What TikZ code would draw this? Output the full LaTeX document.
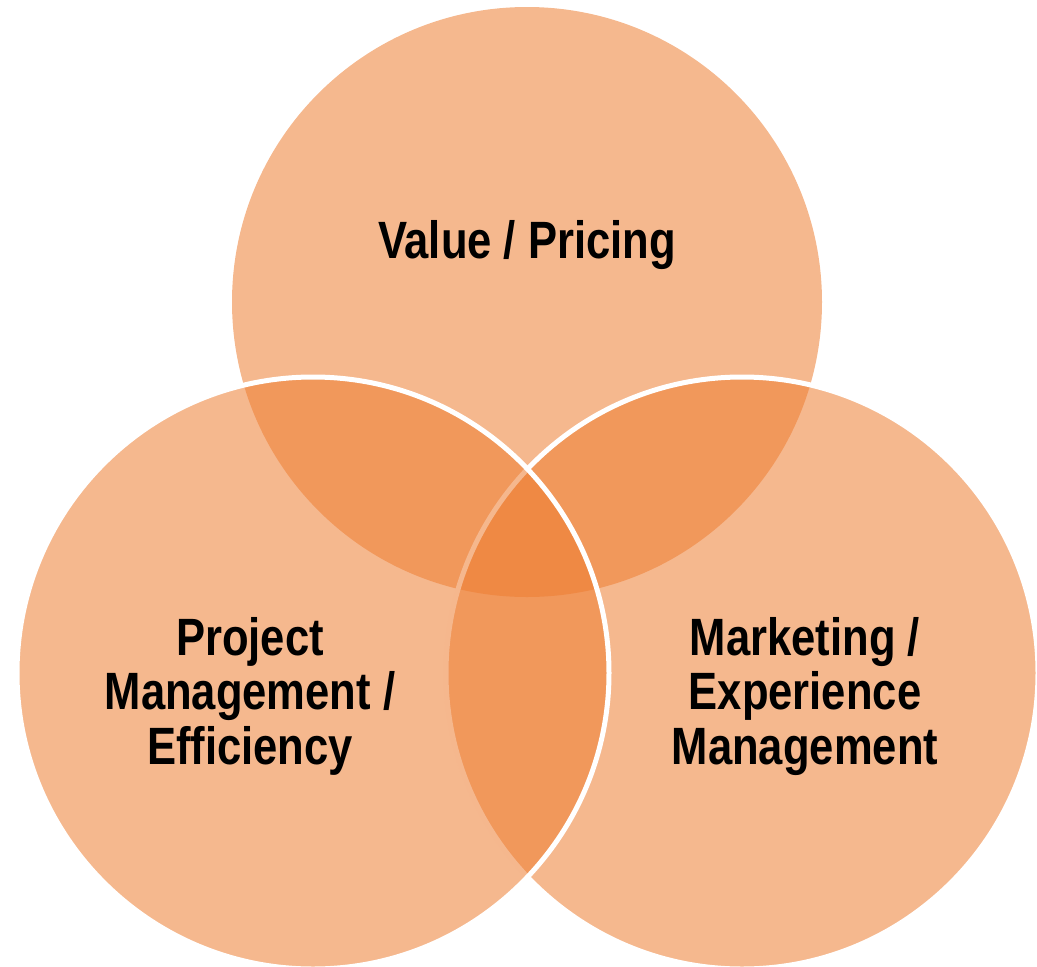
\documentclass[tikz,border=0pt]{standalone}
\usepackage{fontspec}
\newfontfamily\labelfont{Liberation Sans}[FakeStretch=0.83]
\definecolor{vorange}{HTML}{ED7D31}
\begin{document}
\begin{tikzpicture}[x=1pt,y=-1pt]
\tikzset{
  venn/.style={fill=vorange, fill opacity=0.55},
  vennb/.style={venn, draw=white, line width=5pt},
  lbl/.style={font=\labelfont\bfseries\fontsize{52.5}{54.5}\selectfont, align=center, text=black, anchor=base, inner sep=0pt}
}
\useasboundingbox (0,0) rectangle (1037,967);
\path[venn] (527,302) circle[radius=295];
\path[vennb] (742,673) circle[radius=296];
\path[vennb] (313,673) circle[radius=296];
\node[lbl] (vp) at (527,258) {Value / Pricing};
\node[lbl] (pm) at (250,764) {Project\\Management /\\Efficiency};
\node[lbl] (me) at (805,764) {Marketing /\\Experience\\Management};
\end{tikzpicture}
\end{document}
